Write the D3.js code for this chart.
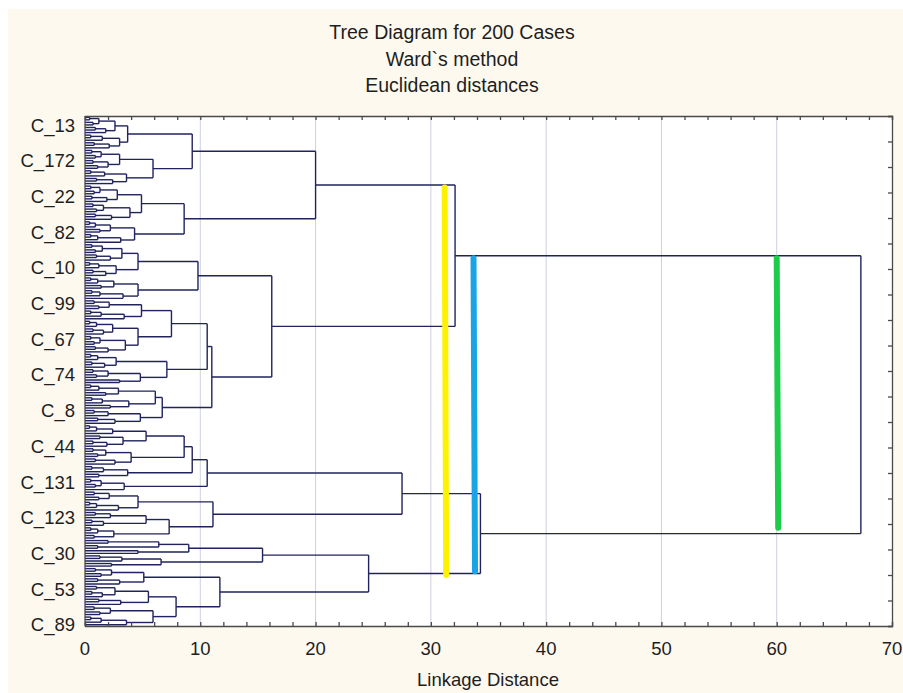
<!DOCTYPE html>
<html>
<head>
<meta charset="utf-8">
<script src="https://cdn.jsdelivr.net/npm/d3@7"></script>
<style>
  html, body { margin: 0; padding: 0; background: #ffffff; }
  svg { display: block; }
  text { font-family: "Liberation Sans", Arial, sans-serif; fill: #1e1e1e; }
</style>
</head>
<body>
<svg id="chart" width="903" height="693"></svg>
<script>
// ---------------- DATA ----------------
const titleLines = ["Tree Diagram for 200 Cases", "Ward`s method", "Euclidean distances"];
const xAxisTitle = "Linkage Distance";
const xTicks = [0, 10, 20, 30, 40, 50, 60, 70];
const caseLabels = ["C_13", "C_172", "C_22", "C_82", "C_10", "C_99", "C_67", "C_74", "C_8", "C_44", "C_131", "C_123", "C_30", "C_53", "C_89"];
const caseLabelLeaf = [3, 17, 31, 45, 59, 73, 87, 101, 115, 129, 143, 157, 171, 185, 199];

// tree nodes: [linkage distance, left, right]; 0 = single case
const A1a_u = [3.7, [2.6, [1.2, [0.4, 0, 0], [0.7, 0, 0]], [1.8, [0.9, 0, 0], 0]], [3.0, [1.5, [0.5, 0, 0], 0], [2.1, [0.8, 0, 0], 0]]];
const A1a_l = [5.9, [3.0, [1.4, [0.6, 0, 0], [0.9, 0, 0]], [2.0, [0.7, 0, 0], [1.1, 0, 0]]], [3.6, [1.7, [0.5, 0, 0], 0], [2.4, [1.0, 0, 0], 0]]];
const A1b_u = [4.9, [2.8, [1.3, [0.5, 0, 0], [0.8, 0, 0]], [1.9, [0.6, 0, 0], 0]], [3.9, [1.6, [0.7, 0, 0], [1.0, 0, 0]], [2.3, [0.9, 0, 0], 0]]];
const A1b_l = [4.3, [2.2, [0.9, [0.4, 0, 0], 0], [1.3, 0, 0]], [3.1, [1.1, [0.5, 0, 0], 0], 0]];
const A2a_u = [4.6, [3.2, [1.5, [0.6, 0, 0], [0.9, 0, 0]], [2.2, [1.0, 0, 0], 0]], [2.7, [1.2, [0.4, 0, 0], 0], [1.8, [0.7, 0, 0], 0]]];
const A2a_l = [4.6, [2.5, [1.1, [0.5, 0, 0], 0], [1.4, 0, 0]], [3.3, [1.3, [0.6, 0, 0], 0], 0]];
const Xuu = [4.9, [2.1, [0.8, 0, 0], [1.2, 0, 0]], [3.4, [1.4, [0.5, 0, 0], 0], 0]];
const Xul = [4.6, [2.4, [1.0, [0.4, 0, 0], 0], [1.6, [0.7, 0, 0], 0]], [3.5, [1.3, [0.5, 0, 0], [0.8, 0, 0]], [2.0, [0.9, 0, 0], 0]]];
const Xl = [7.1, [2.7, [1.1, [0.5, 0, 0], 0], [1.7, [0.6, 0, 0], 0]], [4.8, [2.0, [0.7, 0, 0], [1.0, 0, 0]], [3.0, 0, 0]]];
const Y = [6.7, [6.1, [2.9, [1.2, [0.5, 0, 0], 0], [1.8, 0, 0]], [3.8, [1.5, [0.6, 0, 0], 0], [2.2, 0, 0]]], [4.8, [2.0, [0.8, 0, 0], 0], [2.6, [1.1, 0, 0], 0]]];
const B1a_a = [5.3, [2.4, [1.0, [0.4, 0, 0], 0], 0], [3.3, [1.3, 0, 0], [1.9, [0.7, 0, 0], 0]]];
const B1a_b = [4.0, [1.8, [0.7, 0, 0], [1.1, 0, 0]], [2.6, [0.9, 0, 0], 0]];
const B1a_c = [3.7, [1.6, [0.6, 0, 0], 0], [1.2, 0, 0]];
const B1a_e = [3.4, [1.4, [0.5, 0, 0], [0.9, 0, 0]], 0];
const B1b_u = [4.6, [2.1, [0.8, 0, 0], [1.2, 0, 0]], [2.9, [1.0, [0.4, 0, 0], 0], 0]];
const B1b_l = [7.3, [5.3, [2.2, [0.9, 0, 0], 0], [1.6, [0.6, 0, 0], 0]], [2.5, [1.1, [0.5, 0, 0], 0], [0.8, 0, 0]]];
const B2a = [15.4, [9.0, [6.4, [2.0, 0, 0], [1.1, 0, 0]], [4.6, 0, 0]], [6.6, [3.2, [1.3, 0, 0], 0], [2.3, 0, 0]]];
const B2b_u = [5.1, [2.3, [0.9, 0, 0], [1.4, 0, 0]], [3.0, [1.1, 0, 0], 0]];
const B2b_lu = [5.5, [2.6, [1.0, 0, 0], [1.5, [0.6, 0, 0], 0]], [3.1, [1.2, 0, 0], 0]];
const B2b_ll = [5.9, [2.2, [0.8, 0, 0], [1.3, 0, 0]], [3.6, [1.4, [0.5, 0, 0], 0], 0]];

const A1 = [20.0, [9.3, A1a_u, A1a_l], [8.6, A1b_u, A1b_l]];
const A2 = [16.2, [9.8, A2a_u, A2a_l], [11.0, [10.6, [7.5, Xuu, Xul], Xl], Y]];
const B1 = [27.5, [10.6, [9.3, [8.6, B1a_a, B1a_b], B1a_c], B1a_e], [11.1, B1b_u, B1b_l]];
const B2 = [24.6, B2a, [11.7, B2b_u, [7.9, B2b_lu, B2b_ll]]];
const tree = [67.3, [32.1, A1, A2], [34.3, B1, B2]];

// hand-drawn cut lines: linkage distance, from/to leaf position
const cutNames = ["yellow", "blue", "green"];
const cutDistance = [31.2, 33.7, 60.0];
const cutFromLeaf = [27.5, 55.3, 55.3];
const cutToLeaf = [179.5, 178.0, 161.0];
const cutColors = ["#fff200", "#1aa3e6", "#1ecb4a"];

// ---------------- LAYOUT ----------------
let leafCount = 0;
function layout(node) {
  if (node === 0) { return { h: 0, i: leafCount++ }; }
  const L = layout(node[1]);
  const R = layout(node[2]);
  return { h: node[0], i: (L.i + R.i) / 2, L: L, R: R };
}
const rootNode = layout(tree);

const svg = d3.select("#chart");
const plot = { left: 85, right: 892, top: 116, bottom: 626 };

const x = d3.scaleLinear().domain([0, 70]).range([plot.left, plot.right]);
const y = d3.scaleLinear().domain([-0.5, leafCount - 0.5]).range([plot.top, plot.bottom]);

// background
svg.append("rect").attr("x", 8).attr("y", 9).attr("width", 895).attr("height", 684).attr("fill", "#fdf9ee");
svg.append("rect").attr("x", plot.left).attr("y", plot.top)
  .attr("width", plot.right - plot.left).attr("height", plot.bottom - plot.top).attr("fill", "#ffffff");

// titles
svg.selectAll("text.title").data(titleLines).enter().append("text")
  .attr("class", "title")
  .attr("x", 452).attr("y", (d, i) => 39 + i * 26.5)
  .attr("text-anchor", "middle").attr("font-size", 19.5).text(d => d);

// grid
svg.append("g").selectAll("line").data(xTicks.filter(t => t > 0 && t < 70)).enter().append("line")
  .attr("x1", d => x(d)).attr("x2", d => x(d))
  .attr("y1", plot.top).attr("y2", plot.bottom)
  .attr("stroke", "#cdd1dc").attr("stroke-width", 1);

// dendrogram
const g = svg.append("g").attr("fill", "none").attr("stroke", "#20235e").attr("stroke-width", 1.4);
function draw(n) {
  if (!n.L) return;
  [n.L, n.R].forEach(c => {
    g.append("line").attr("x1", x(c.h)).attr("x2", x(n.h)).attr("y1", y(c.i)).attr("y2", y(c.i));
  });
  g.append("line").attr("x1", x(n.h)).attr("x2", x(n.h)).attr("y1", y(n.L.i)).attr("y2", y(n.R.i));
  draw(n.L); draw(n.R);
}
draw(rootNode);

// axes frame
const axisColor = "#4a4a4a";
const minorTicks = d3.range(0, 70.001, 2);
const xBottom = d3.axisBottom(x).tickValues(minorTicks).tickSize(-4).tickFormat("");
svg.append("g").attr("transform", `translate(0,${plot.bottom})`).call(xBottom)
  .call(s => s.selectAll("line,path").attr("stroke", axisColor).attr("stroke-width", 1.3));
const xTop = d3.axisTop(x).tickValues(minorTicks).tickSize(-4).tickFormat("");
svg.append("g").attr("transform", `translate(0,${plot.top})`).call(xTop)
  .call(s => s.selectAll("line,path").attr("stroke", axisColor).attr("stroke-width", 1.3));
const rightTicks = d3.range(0, leafCount + 1, 10);
const yEdge = d3.scaleLinear().domain([0, leafCount]).range([plot.top, plot.bottom]);
const yRight = d3.axisRight(yEdge).tickValues(rightTicks).tickSize(-4).tickFormat("");
svg.append("g").attr("transform", `translate(${plot.right},0)`).call(yRight)
  .call(s => s.selectAll("line,path").attr("stroke", axisColor).attr("stroke-width", 1.3));
svg.append("line").attr("x1", plot.left).attr("x2", plot.left).attr("y1", plot.top).attr("y2", plot.bottom)
  .attr("stroke", axisColor).attr("stroke-width", 1.3);

// x tick labels
svg.append("g").selectAll("text").data(xTicks).enter().append("text")
  .attr("x", d => x(d)).attr("y", 655).attr("text-anchor", "middle").attr("font-size", 18.5).text(d => d);
svg.append("text").attr("x", 488).attr("y", 686).attr("text-anchor", "middle").attr("font-size", 18.5).text(xAxisTitle);

// case labels
svg.append("g").selectAll("text").data(caseLabels).enter().append("text")
  .attr("x", 75).attr("y", (d, i) => y(caseLabelLeaf[i])).attr("dy", "0.36em")
  .attr("text-anchor", "end").attr("font-size", 18.5).text(d => d);

// hand-drawn cut lines
svg.append("g").selectAll("line").data(cutDistance).enter().append("line")
  .attr("x1", d => x(d)).attr("x2", (d, i) => x(d) + 1.5)
  .attr("y1", (d, i) => y(cutFromLeaf[i])).attr("y2", (d, i) => y(cutToLeaf[i]))
  .attr("stroke", (d, i) => cutColors[i]).attr("stroke-width", 6).attr("stroke-linecap", "round");
</script>
</body>
</html>
